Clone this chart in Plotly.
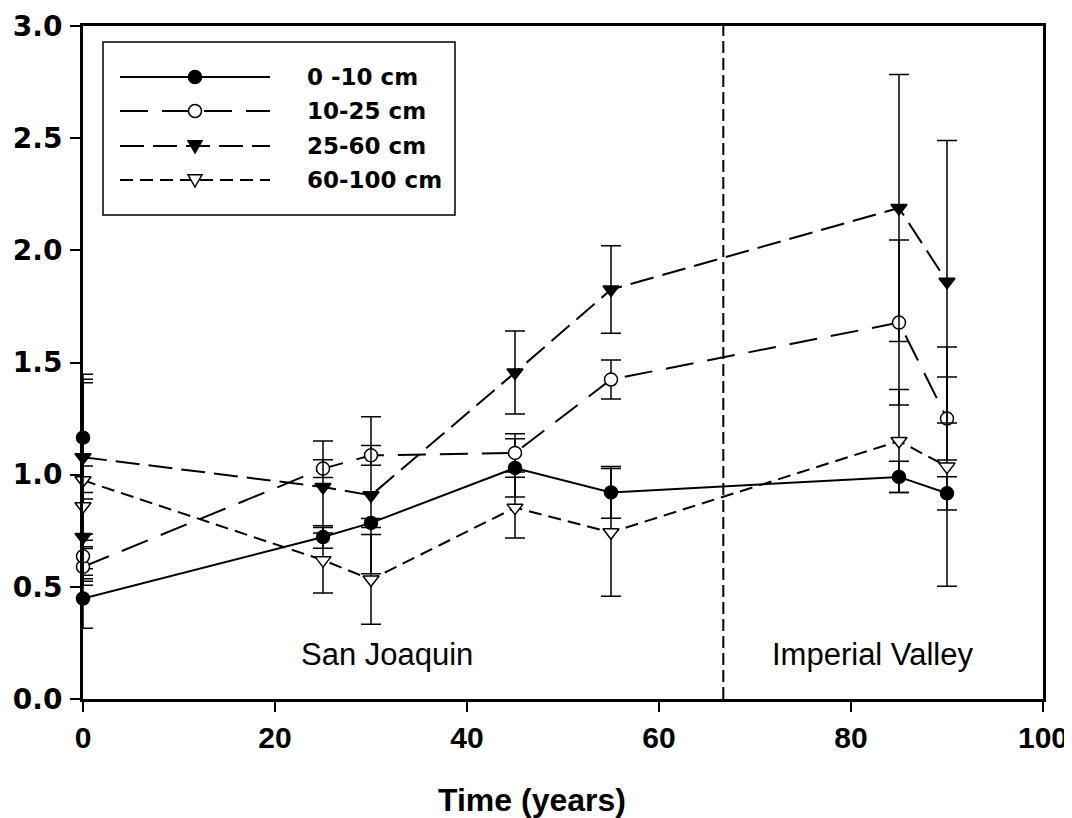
import plotly.graph_objects as go

# ---------------- data ----------------
TIME = [0, 0, 25, 30, 45, 55, 85, 90]
SERIES_NAMES = ["0 -10 cm", "10-25 cm", "25-60 cm", "60-100 cm"]

Y_0_10 = [1.165, 0.448, 0.722, 0.785, 1.030, 0.921, 0.990, 0.917]
ERR_0_10 = [0.245, 0.133, 0.050, 0.020, 0.130, 0.115, 0.070, 0.074]

Y_10_25 = [0.636, 0.589, 1.027, 1.086, 1.097, 1.424, 1.678, 1.250]
ERR_10_25 = [0.100, 0.082, 0.040, 0.044, 0.085, 0.087, 0.368, 0.185]

Y_25_60 = [0.722, 1.078, 0.945, 0.908, 1.455, 1.825, 2.189, 1.860]
ERR_25_60 = [0.170, 0.370, 0.205, 0.350, 0.185, 0.195, 0.595, 0.630]

Y_60_100 = [0.859, 0.975, 0.619, 0.533, 0.853, 0.743, 1.150, 1.036]
ERR_60_100 = [0.180, 0.450, 0.146, 0.200, 0.135, 0.285, 0.230, 0.533]

REGION_BOUNDARY = 66.7
REGION_LABELS = ["San Joaquin", "Imperial Valley"]
X_TICKS = [0, 20, 40, 60, 80, 100]
Y_TICKS = [0.0, 0.5, 1.0, 1.5, 2.0, 2.5, 3.0]
X_TITLE = "Time (years)"

# ---------------- layout geometry ----------------
# the page body adds an 8px offset, so the figure is 8px smaller on each side
OFF = 8
W, H = 1072 - OFF, 818 - OFF
ML, MR, MT, MB = 83 - OFF, 29, 26 - OFF, 119
PW, PH = W - ML - MR, H - MT - MB


def px(x):
    # screen pixel -> paper fraction
    return (x - OFF - ML) / PW


def py(y):
    return (H - MB - (y - OFF)) / PH


STYLES = [
    dict(symbol="circle", fill="black", dash="solid", size=13),
    dict(symbol="circle", fill="white", dash="28px,14px", size=13),
    dict(symbol="triangle-down", fill="black", dash="24px,9px", size=14),
    dict(symbol="triangle-down", fill="white", dash="13px,7px", size=14),
]

SERIES_Y = [Y_0_10, Y_10_25, Y_25_60, Y_60_100]
SERIES_ERR = [ERR_0_10, ERR_10_25, ERR_25_60, ERR_60_100]

fig = go.Figure()

for name, ys, errs, st in zip(SERIES_NAMES, SERIES_Y, SERIES_ERR, STYLES):
    marker = dict(symbol=st["symbol"], size=st["size"], color=st["fill"],
                  line=dict(color="black", width=1.5))
    err_style = dict(type="data", visible=True, color="black", thickness=1.5, width=10)
    # connected sequence (second x=0 value onward)
    fig.add_trace(go.Scatter(
        x=TIME[1:], y=ys[1:], mode="lines+markers", name=name,
        line=dict(color="black", width=2, dash=st["dash"]),
        marker=marker,
        error_y=dict(array=errs[1:], **err_style),
        cliponaxis=False, showlegend=False,
    ))
    # additional baseline value at time 0
    fig.add_trace(go.Scatter(
        x=TIME[:1], y=ys[:1], mode="markers", name=name,
        marker=marker,
        error_y=dict(array=errs[:1], **err_style),
        cliponaxis=False, showlegend=False,
    ))

shapes = [
    dict(type="line", xref="x", yref="y", x0=REGION_BOUNDARY, x1=REGION_BOUNDARY,
         y0=0, y1=3, line=dict(color="black", width=2, dash="12px,5px"), layer="below"),
    # legend box
    dict(type="rect", xref="paper", yref="paper", x0=px(103), x1=px(455), y0=py(215), y1=py(42),
         line=dict(color="black", width=1.5), fillcolor="white", layer="above"),
]

annotations = []
LEG_ROWS = [77, 111, 146, 180]
LX0, LX1, LMX, LTX = 120, 270, 195, 305
for name, st, ry in zip(SERIES_NAMES, STYLES, LEG_ROWS):
    shapes.append(dict(type="line", xref="paper", yref="paper", x0=px(LX0), x1=px(LX1),
                       y0=py(ry), y1=py(ry), line=dict(color="black", width=2, dash=st["dash"]),
                       layer="above"))
    r = st["size"] / 2
    if st["symbol"] == "circle":
        shapes.append(dict(type="circle", xref="paper", yref="paper",
                           x0=px(LMX - r), x1=px(LMX + r), y0=py(ry + r), y1=py(ry - r),
                           fillcolor=st["fill"], line=dict(color="black", width=1.5), layer="above"))
    else:
        p = "M{:.5f},{:.5f} L{:.5f},{:.5f} L{:.5f},{:.5f} Z".format(
            px(LMX - r), py(ry - r * 0.75), px(LMX + r), py(ry - r * 0.75), px(LMX), py(ry + r))
        shapes.append(dict(type="path", xref="paper", yref="paper", path=p,
                           fillcolor=st["fill"], line=dict(color="black", width=1.5), layer="above"))
    annotations.append(dict(xref="paper", yref="paper", x=px(LTX), y=py(ry), text=name,
                            showarrow=False, xanchor="left", yanchor="middle",
                            font=dict(family="DejaVu Sans", size=23, color="black", weight="bold")))

REGION_POS = [(31.7, 0.2), (82.3, 0.2)]
for label, (ax, ay) in zip(REGION_LABELS, REGION_POS):
    annotations.append(dict(xref="x", yref="y", x=ax, y=ay, text=label, showarrow=False,
                            xanchor="center", yanchor="middle",
                            font=dict(family="Liberation Sans", size=31, color="black")))

# x-axis title (placed slightly left of the plot centre, as in the original)
annotations.append(dict(xref="paper", yref="paper", x=px(532), y=py(800), text=X_TITLE,
                        showarrow=False, xanchor="center", yanchor="middle",
                        font=dict(family="Liberation Sans", size=32, color="black", weight="bold")))

fig.update_layout(
    width=W, height=H,
    margin=dict(l=ML, r=MR, t=MT, b=MB, autoexpand=False),
    paper_bgcolor="white", plot_bgcolor="white",
    shapes=shapes, annotations=annotations,
    showlegend=False,
)
fig.update_xaxes(
    range=[0, 100], tickvals=X_TICKS, ticktext=[str(v) for v in X_TICKS],
    showgrid=False, zeroline=False, showline=True, linecolor="black", linewidth=3,
    mirror=True, ticks="outside", ticklen=10, tickwidth=2, tickcolor="black",
    ticklabelstandoff=0,
    tickfont=dict(family="Liberation Sans", size=30, color="black", weight="bold"),
    automargin=False,
)
fig.update_yaxes(
    range=[0, 3], tickvals=Y_TICKS, ticktext=["{:.1f}".format(v) for v in Y_TICKS],
    showgrid=False, zeroline=False, showline=True, linecolor="black", linewidth=3,
    mirror=True, ticks="outside", ticklen=10, tickwidth=2, tickcolor="black",
    ticklabelstandoff=2,
    tickfont=dict(family="DejaVu Sans", size=28, color="black", weight="bold"),
    automargin=False,
)

fig.write_html("out.html")
